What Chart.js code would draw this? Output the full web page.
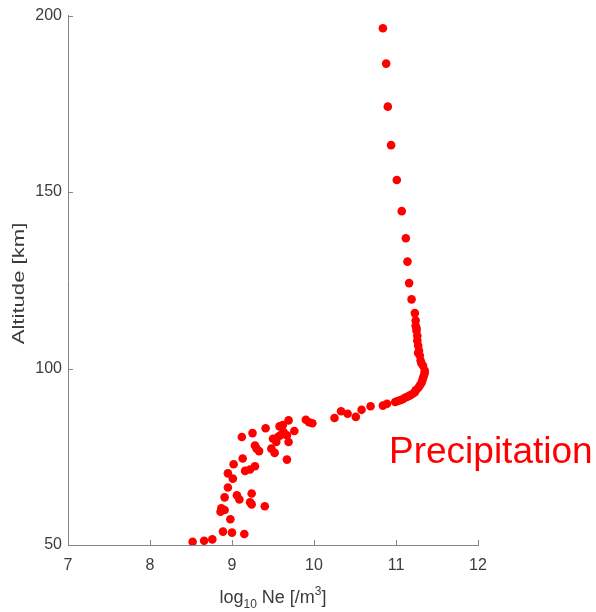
<!DOCTYPE html>
<html>
<head>
<meta charset="utf-8">
<script src="https://cdn.jsdelivr.net/npm/chart.js@4/dist/chart.umd.min.js"></script>
<style>
  html, body { margin: 0; padding: 0; background: #fff; }
  #profile { display: block; }
</style>
</head>
<body>
<canvas id="profile" width="596" height="612"></canvas>
<script>
// Electron density profile, altitude (km) against log10 Ne
const logNe = [
  10.84, 10.88, 10.90, 10.94, 11.01, 11.07, 11.12, 11.14, 11.16, 11.19, 11.23,
  11.24, 11.24, 11.25, 11.25, 11.26, 11.26, 11.27, 11.28, 11.27, 11.29, 11.30,
  11.31, 11.33, 11.35, 11.35, 11.34, 11.33, 11.32, 11.31, 11.29, 11.27, 11.24,
  11.23, 11.20, 11.17, 11.14, 11.11, 11.08, 11.05, 11.02, 10.99, 10.89, 10.84,
  10.69, 10.58, 10.51, 10.41, 10.33, 10.25,
  9.90, 9.94, 9.98,
  9.12, 9.25, 9.41, 9.58, 9.62, 9.69, 9.76, 9.67, 9.59, 9.63, 9.56, 9.50, 9.54,
  9.69, 9.48, 9.52, 9.28, 9.30, 9.33, 9.67, 9.13, 9.02, 9.16, 9.22, 9.28, 8.95,
  9.01,
  8.95, 8.91, 9.06, 9.09, 9.24, 9.22, 9.24, 9.40, 8.87, 8.86, 8.91, 8.98, 8.89,
  9.00, 9.15, 8.52, 8.66, 8.76
];
const altitude = [
  196.4, 186.4, 174.2, 163.3, 153.4, 144.6, 136.9, 130.3, 124.2, 119.6, 115.7,
  113.6, 112.1, 111.4, 110.7, 109.3, 107.9, 106.5, 105.1, 104.4, 103.7, 102.3,
  101.5, 100.8, 99.4, 98.7, 98.0, 97.3, 96.6, 95.9, 95.2, 94.5, 93.8,
  93.3, 92.8, 92.4, 92.0, 91.7, 91.3, 91.0, 90.8, 90.5, 90.0, 89.5,
  89.3, 88.3, 86.3, 87.2, 87.9, 86.0,
  85.5, 84.8, 84.5,
  80.6, 81.7, 83.1, 83.6, 84.0, 85.3, 82.3, 81.1, 81.1, 82.0, 80.6, 80.1, 79.2,
  79.2, 77.3, 76.1, 78.2, 77.3, 76.6, 74.2, 74.5, 72.9, 71.0, 71.4, 72.3, 70.3,
  68.8,
  66.3, 63.5, 64.1, 62.9, 64.6, 62.1, 61.5, 61.0, 60.4, 59.4, 59.9, 57.3, 53.8,
  53.5, 53.1, 50.9, 51.2, 51.6
];
const xTicks = [7, 8, 9, 10, 11, 12];
const yTicks = [50, 100, 150, 200];

const points = logNe.map((v, i) => ({ x: v, y: altitude[i] }));

const axisColour = "#868686";
const textColour = "#3c3c3c";
const fontFamily = "'Liberation Sans', Arial, Helvetica, sans-serif";

// inward tick marks, axis titles and the annotation
const decorations = {
  id: "decorations",
  afterDraw(chart) {
    const ctx = chart.ctx;
    const xs = chart.scales.x;
    const ys = chart.scales.y;
    const area = chart.chartArea;

    ctx.save();
    ctx.strokeStyle = axisColour;
    ctx.lineWidth = 1;
    ctx.beginPath();
    xTicks.forEach((v) => {
      const px = Math.round(xs.getPixelForValue(v)) + 0.5;
      ctx.moveTo(px, area.bottom);
      ctx.lineTo(px, area.bottom - 5);
    });
    yTicks.forEach((v) => {
      const py = Math.round(ys.getPixelForValue(v)) + 0.5;
      ctx.moveTo(area.left, py);
      ctx.lineTo(area.left + 5, py);
    });
    ctx.stroke();

    ctx.fillStyle = textColour;

    // x title: log10 Ne [/m3]
    const cx = (area.left + area.right) / 2;
    const base = 603;
    const parts = [
      { t: "log", size: 18, dy: 0 },
      { t: "10", size: 12, dy: 5 },
      { t: " Ne [/m", size: 18, dy: 0 },
      { t: "3", size: 12, dy: -8 },
      { t: "]", size: 18, dy: 0 },
    ];
    let total = 0;
    parts.forEach((p) => {
      ctx.font = `${p.size}px ${fontFamily}`;
      p.w = ctx.measureText(p.t).width;
      total += p.w;
    });
    let x = cx - total / 2;
    ctx.textAlign = "left";
    ctx.textBaseline = "alphabetic";
    parts.forEach((p) => {
      ctx.font = `${p.size}px ${fontFamily}`;
      ctx.fillText(p.t, x, base + p.dy);
      x += p.w;
    });

    // y title, stretched along its length
    ctx.save();
    ctx.translate(19, 283.5);
    ctx.rotate(-Math.PI / 2);
    ctx.scale(1.3, 1);
    ctx.font = `17px ${fontFamily}`;
    ctx.textAlign = "center";
    ctx.textBaseline = "middle";
    ctx.fillText("Altitude [km]", 0, 0);
    ctx.restore();

    ctx.fillStyle = "#ff0000";
    ctx.font = `37px ${fontFamily}`;
    ctx.textAlign = "left";
    ctx.textBaseline = "alphabetic";
    ctx.fillText("Precipitation", 389, 463);
    ctx.restore();
  },
};

new Chart("profile", {
  type: "scatter",
  data: {
    datasets: [
      {
        data: points,
        backgroundColor: "#ff0000",
        borderWidth: 0,
        pointRadius: 4.3,
      },
    ],
  },
  options: {
    responsive: false,
    animation: false,
    layout: { padding: { left: 0, right: 118, top: 15, bottom: 0 } },
    plugins: {
      legend: { display: false },
      tooltip: { enabled: false },
    },
    scales: {
      x: {
        type: "linear",
        min: 7,
        max: 12,
        afterFit: (scale) => { scale.height = 67; },
        afterBuildTicks: (scale) => { scale.ticks = xTicks.map((v) => ({ value: v })); },
        grid: { drawOnChartArea: false, drawTicks: false },
        border: { display: true, color: axisColour, width: 1 },
        ticks: {
          color: textColour,
          padding: 11,
          font: { family: fontFamily, size: 16 },
        },
      },
      y: {
        type: "linear",
        min: 50,
        max: 200,
        afterFit: (scale) => { scale.width = 68; },
        afterBuildTicks: (scale) => { scale.ticks = yTicks.map((v) => ({ value: v })); },
        grid: { drawOnChartArea: false, drawTicks: false },
        border: { display: true, color: axisColour, width: 1 },
        ticks: {
          color: textColour,
          padding: 6,
          font: { family: fontFamily, size: 16 },
        },
      },
    },
  },
  plugins: [decorations],
});
</script>
</body>
</html>
